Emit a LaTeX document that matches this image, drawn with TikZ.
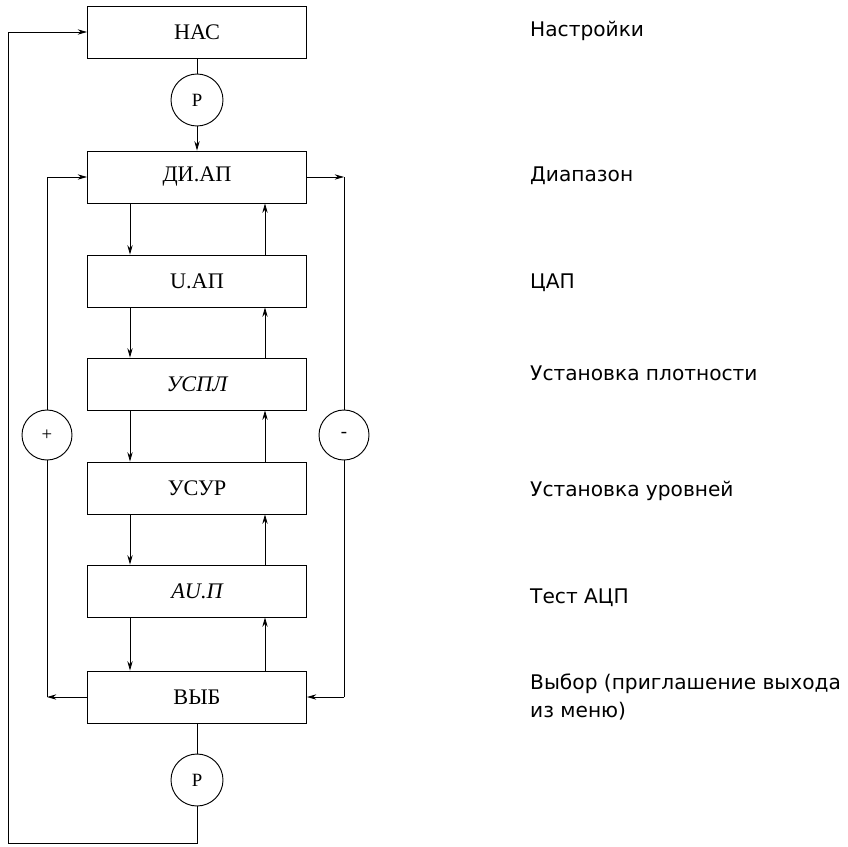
\documentclass[tikz,border=0pt]{standalone}
\usepackage{fontspec}
\setmainfont{Liberation Serif}
\newfontfamily\notefont{DejaVu Sans}
\usetikzlibrary{arrows.meta}
\newcommand{\CX}{197}
\newcommand{\DL}{2.01cm}
\newcommand{\DR}{2.04cm}

\begin{document}
\begin{tikzpicture}[
    x=0.03cm, y=-0.03cm,
    >={Stealth[length=2.8mm,width=1.6mm]},
    wire/.style={draw=black, line width=0.7pt},
    blk/.style={rectangle, draw=black, line width=0.8pt, minimum width=6.57cm, minimum height=1.56cm, inner sep=0pt, font=\fontsize{19}{22}\selectfont},
    rnd/.style={circle, draw=black, line width=0.8pt, minimum size=1.56cm, inner sep=0pt, font=\fontsize{16}{18}\selectfont},
    sgn/.style={rnd, minimum size=1.5cm},
    note/.style={anchor=west, inner sep=0pt, align=left, font=\notefont\fontsize{17.2}{24}\selectfont},
  ]
  \useasboundingbox (0,0) rectangle (848,846);

  \node[blk] (nas)  at (\CX,32)  {НАС};
  \node[rnd] (p1)   at (\CX,100) {Р};
  \node[blk] (dia)  at (\CX,177) {ДИ.АП};
  \node[blk] (uap)  at (\CX,281) {U.АП};
  \node[blk] (uspl) at (\CX,384) {\itshape УСПЛ};
  \node[blk] (usur) at (\CX,488) {УСУР};
  \node[blk] (acp)  at (\CX,591) {\itshape AU.П};
  \node[blk] (vyb)  at (\CX,697) {ВЫБ};
  \node[rnd] (p2)   at (\CX,780) {Р};

  \node[sgn] (plus)  at (47,435)  {+};
  \node[sgn] (minus) at (344,435) {-};

  \coordinate (lt) at (47,177);
  \coordinate (lb) at (47,697);
  \coordinate (rt) at (344,177);
  \coordinate (rb) at (344,697);
  \coordinate (ob) at (8,843);
  \coordinate (ot) at (8,32);

  \draw[wire] (nas) -- (p1);
  \draw[wire,->] (p1) -- (dia);

  % steps down and back up the menu
  \foreach \a/\b in {dia/uap,uap/uspl,uspl/usur,usur/acp,acp/vyb} {
    \draw[wire,->] ([xshift=-\DL]\a.south) -- ([xshift=-\DL]\b.north);
    \draw[wire,->] ([xshift=\DR]\b.north) -- ([xshift=\DR]\a.south);
  }

  % + loop
  \draw[wire,->] (vyb.west) -- (lb);
  \draw[wire] (lb) -- (plus.south);
  \draw[wire] (plus.north) -- (lt);
  \draw[wire,->] (lt) -- (dia.west);

  % - loop
  \draw[wire,->] (dia.east) -- (rt);
  \draw[wire] (rt) -- (minus.north);
  \draw[wire] (minus.south) -- (rb);
  \draw[wire,->] (rb) -- (vyb.east);

  % back to the settings
  \draw[wire] (vyb) -- (p2);
  \draw[wire] (p2.south) |- (ob) -- (ot);
  \draw[wire,->] (ot) -- (nas.west);

  \node[note] (n1) at (530,31)  {Настройки};
  \node[note] (n2) at (530,176) {Диапазон};
  \node[note] (n3) at (530,283) {ЦАП};
  \node[note] (n4) at (530,373) {Установка плотности};
  \node[note] (n5) at (530,491) {Установка уровней};
  \node[note] (n6) at (530,598) {Тест АЦП};
  \node[note] (n7) at (530,697) {Выбор (приглашение выхода\\из меню)};

\end{tikzpicture}
\end{document}
